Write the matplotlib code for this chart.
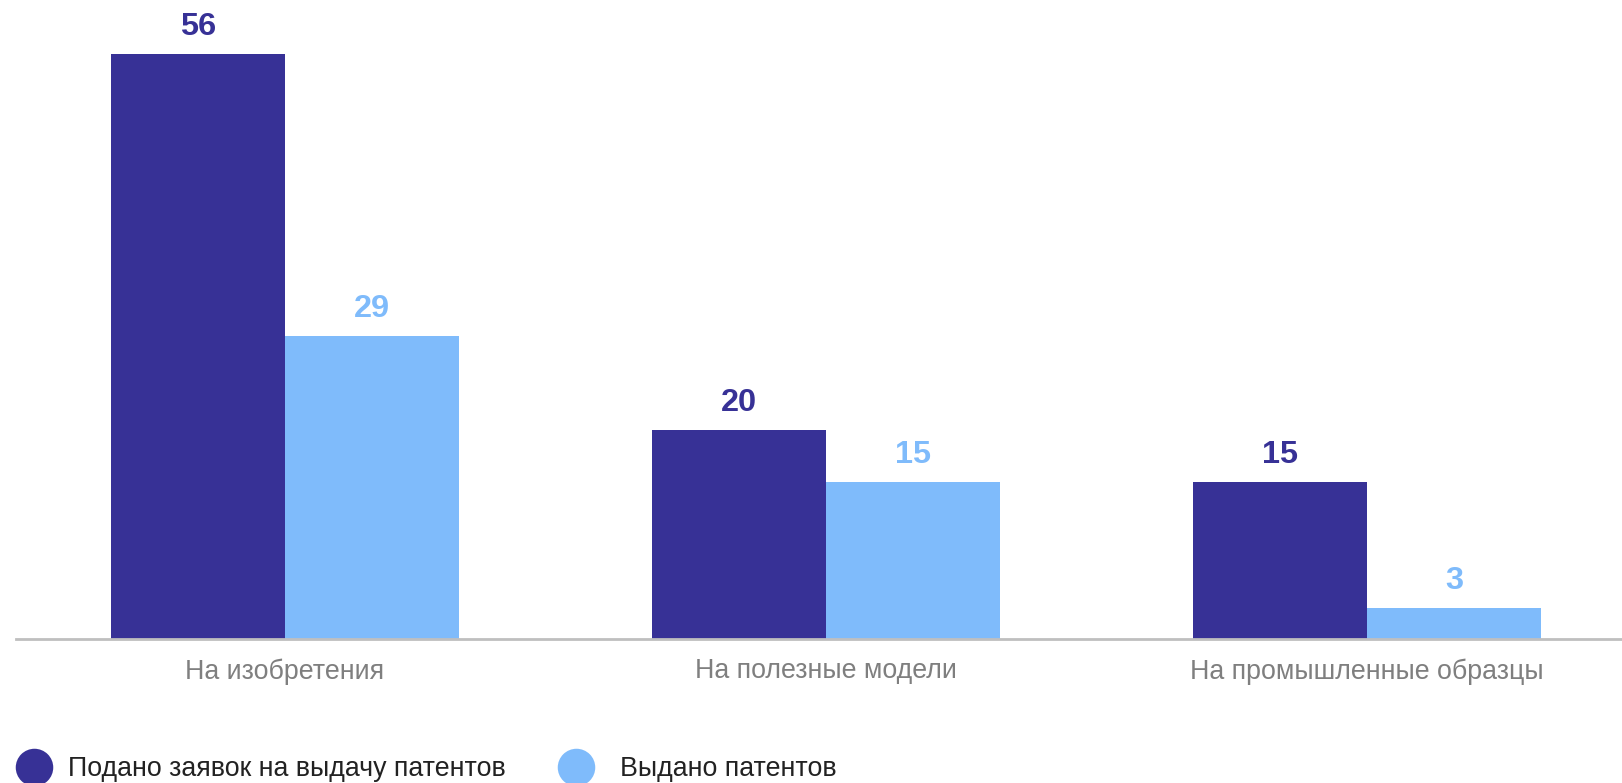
import matplotlib
matplotlib.use("Agg")
import matplotlib.pyplot as plt
from matplotlib.lines import Line2D
import numpy as np

plt.rcParams['font.family'] = ['Liberation Sans', 'DejaVu Sans']

categories = ["На изобретения", "На полезные модели", "На промышленные образцы"]
series_names = ["Подано заявок на выдачу патентов", "Выдано патентов"]
filed = [56, 20, 15]
granted = [29, 15, 3]

dark = "#373196"
light = "#7FBBFB"

W, H = 1622, 783
fig = plt.figure(figsize=(W / 100, H / 100), dpi=100)
left_px, right_px = 15.5, 1622
bottom_px = 639
top_px = 12
ax = fig.add_axes([left_px / W, (H - bottom_px) / H, (right_px - left_px) / W, (bottom_px - top_px) / H])

x = np.arange(len(categories))
bw = 0.322
ax.bar(x - bw / 2, filed, width=bw, color=dark, edgecolor='none')
ax.bar(x + bw / 2, granted, width=bw, color=light, edgecolor='none')

for xi, v in zip(x, filed):
    ax.annotate(str(v), (xi - bw / 2, v), xytext=(0, 13.7), textcoords='offset points',
                ha='center', va='baseline', fontsize=23.4, fontweight='bold', color=dark)
for xi, v in zip(x, granted):
    ax.annotate(str(v), (xi + bw / 2, v), xytext=(0, 13.7), textcoords='offset points',
                ha='center', va='baseline', fontsize=23.4, fontweight='bold', color=light)

ax.set_xlim(-0.498, 2.471)
ax.set_ylim(0, 60)
for s in ['top', 'right', 'left']:
    ax.spines[s].set_visible(False)
ax.spines['bottom'].set_color('#BFBFBF')
ax.spines['bottom'].set_linewidth(2)
ax.set_yticks([])
ax.set_xticks(x)
ax.set_xticklabels(categories, fontsize=19.3, color='#7F7F7F')
ax.tick_params(axis='x', length=0, pad=14)

fs = 19.3
fs_px = fs * 100 / 72
hl = 1.4
handle_px = hl * fs_px
legend_items = [(series_names[0], dark, 34, 0.57), (series_names[1], light, 576, 0.94)]
for name, c, cx, tp in legend_items:
    h = Line2D([], [], marker='o', linestyle='none', markersize=27,
               markerfacecolor=c, markeredgecolor='none')
    x0 = cx - handle_px / 2
    fig.legend([h], [name], loc='center left', bbox_to_anchor=(x0 / W, 1 - 769 / H),
               frameon=False, fontsize=fs, handletextpad=tp, handlelength=hl,
               borderaxespad=0, borderpad=0, labelcolor='#222222')

fig.savefig("out.png", dpi=100)
